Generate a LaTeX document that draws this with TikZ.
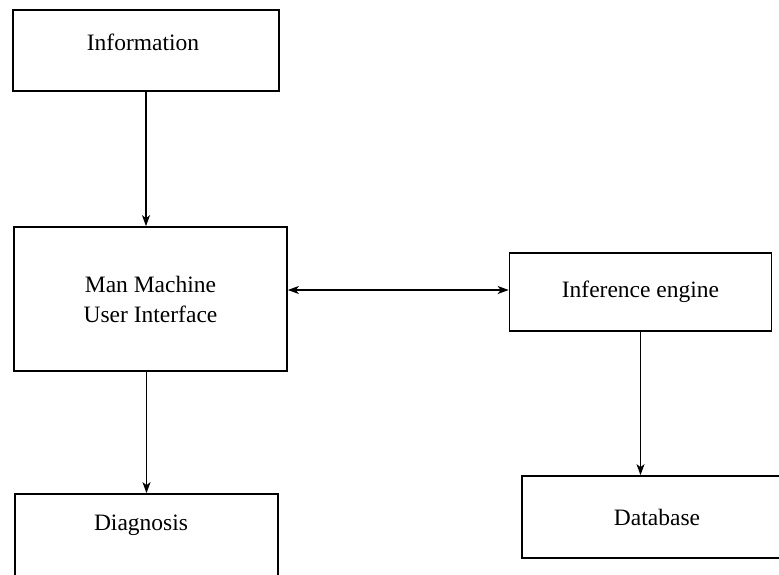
\documentclass[tikz,border=0pt]{standalone}
\usepackage{fontspec}
\setmainfont{Liberation Serif}
\usetikzlibrary{arrows.meta}
\begin{document}
\begin{tikzpicture}[x=1pt,y=-1pt,
  block/.style={draw, line width=1.7pt, inner sep=0pt},
  label text/.style={font=\fontsize{23.5}{30}\selectfont, align=center},
  link/.style={line width=1.3pt, -{Stealth[length=11pt,width=8pt,inset=3pt]}},
  twoway/.style={line width=1.3pt, {Stealth[length=11pt,width=8pt,inset=3pt]}-{Stealth[length=11pt,width=8pt,inset=3pt]}}]
  \useasboundingbox (0,0) rectangle (779,575);

  % boxes
  \node[block, minimum width=266pt, minimum height=81pt] (info) at (146,50.5) {};
  \node[label text] (infotext) at (143,42) {Information};

  \node[block, label text, minimum width=273pt, minimum height=144pt] (mm) at (150.5,299)
    {Man Machine\\User Interface};

  \node[block, label text, minimum width=262pt, minimum height=78pt] (inf) at (640.5,292)
    {Inference engine};

  \node[block, label text, minimum width=270pt, minimum height=82pt] (db) at (657,517)
    {Database};

  \node[block, minimum width=263pt, minimum height=100pt] (diag) at (146.5,544) {};
  \node[label text] (diagtext) at (141,525) {Diagnosis};

  % connectors
  \coordinate (infin) at ([yshift=2pt]inf.west);
  \draw[link] (info.south) -- (info.south |- mm.north);
  \draw[link] (mm.south -| diag.north) -- (diag.north);
  \draw[twoway] (mm.east |- infin) -- (infin);
  \draw[link] (inf.south) -- (inf.south |- db.north);
\end{tikzpicture}
\end{document}
